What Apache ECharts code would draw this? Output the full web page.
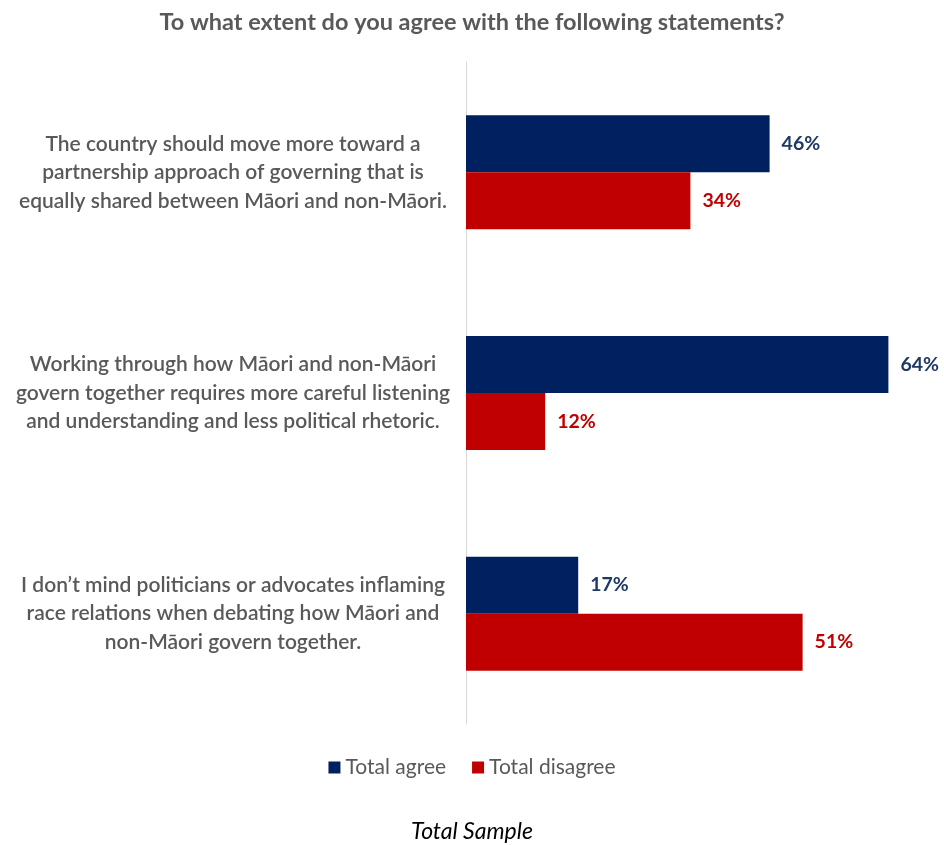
<!DOCTYPE html>
<html>
<head>
<meta charset="utf-8">
<script src="https://cdn.jsdelivr.net/npm/echarts@6/dist/echarts.min.js"></script>
<style>
  html, body { margin: 0; padding: 0; background: #fff; }
  #chart { width: 944px; height: 845px; }
</style>
</head>
<body>
<div id="chart"></div>
<script>
// Survey statements (top to bottom)
const statements = [
  'The country should move more toward a\npartnership approach of governing that is\nequally shared between Māori and non-Māori.',
  'Working through how Māori and non-Māori\ngovern together requires more careful listening\nand understanding and less political rhetoric.',
  'I don\u2019t mind politicians or advocates inflaming\nrace relations when debating how Māori and\nnon-Māori govern together.'
];
const seriesNames = ['Total agree', 'Total disagree'];
const agreeValues = [46, 64, 17];
const disagreeValues = [34, 12, 51];

const FONT = 'Lato, "Open Sans", sans-serif';
const NAVY = '#002060';
const RED = '#C00000';

const chart = echarts.init(document.getElementById('chart'), null, { renderer: 'canvas' });

chart.setOption({
  animation: false,
  backgroundColor: '#ffffff',
  title: {
    text: 'To what extent do you agree with the following statements?',
    left: 'center',
    top: 5,
    textStyle: { fontFamily: FONT, fontSize: 23.5, fontWeight: 'bold', color: '#595959' }
  },
  legend: {
    data: seriesNames,
    bottom: 62,
    left: 'center',
    itemWidth: 12,
    itemHeight: 12,
    itemGap: 26,
    icon: 'rect',
    textStyle: { fontFamily: FONT, fontSize: 21, color: '#595959' }
  },
  graphic: [{
    type: 'text',
    left: 'center',
    top: 820,
    style: { text: 'Total Sample', fontFamily: FONT, fontSize: 23, fontStyle: 'italic', fill: '#000000' }
  }],
  grid: { left: 466, top: 62, width: 462, height: 662, containLabel: false },
  xAxis: {
    type: 'value',
    min: 0,
    max: 70,
    show: false
  },
  yAxis: {
    type: 'category',
    inverse: true,
    data: statements,
    axisTick: { show: false },
    axisLine: { show: true, lineStyle: { color: '#D9D9D9', width: 1 } },
    axisLabel: {
      align: 'center',
      margin: 233,
      lineHeight: 28.5,
      fontFamily: FONT,
      fontSize: 21,
      fontWeight: 600,
      color: '#595959'
    }
  },
  series: [
    {
      name: seriesNames[0],
      type: 'bar',
      data: agreeValues,
      barWidth: 57,
      barGap: '0%',
      itemStyle: { color: NAVY },
      label: {
        show: true,
        position: 'right',
        distance: 12,
        formatter: '{c}%',
        fontFamily: FONT,
        fontSize: 19.5,
        fontWeight: 'bold',
        color: '#203864'
      }
    },
    {
      name: seriesNames[1],
      type: 'bar',
      data: disagreeValues,
      barWidth: 57,
      barGap: '0%',
      itemStyle: { color: RED },
      label: {
        show: true,
        position: 'right',
        distance: 12,
        formatter: '{c}%',
        fontFamily: FONT,
        fontSize: 19.5,
        fontWeight: 'bold',
        color: '#C00000'
      }
    }
  ]
});
</script>
</body>
</html>
